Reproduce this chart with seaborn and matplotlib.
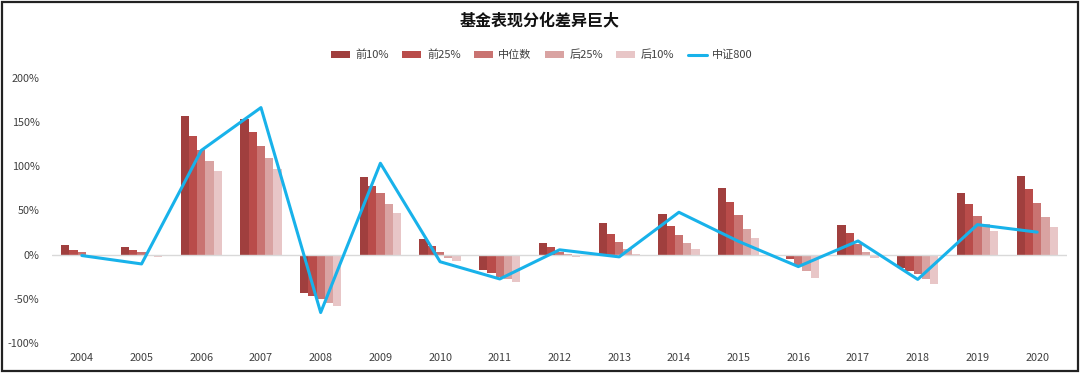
import numpy as np
import pandas as pd
import matplotlib
matplotlib.use("Agg")
import matplotlib.pyplot as plt
from matplotlib.patches import Patch, Rectangle
from matplotlib.lines import Line2D
import seaborn as sns

years = [str(y) for y in range(2004, 2021)]
series_names = ["前10%", "前25%", "中位数", "后25%", "后10%"]
top10 = [10.6, 8.7, 157, 153.6, -43.4, 88, 17.5, -17.7, 13, 35.5, 45.7, 76, -1, 33.5, -15, 69.4, 89.4]
top25 = [5.7, 5.8, 134.7, 139, -46.4, 78, 10, -21, 9, 23.5, 33, 60, -5, 25, -19, 57.4, 74.7]
median = [2.6, 2.5, 119, 123.4, -50, 70, 3.2, -25, 3.5, 14, 22.6, 44.5, -11.5, 12.5, -22, 44, 58.5]
bottom25 = [-0.5, -1.5, 106.4, 109, -55, 57, -3.5, -28, 0.5, 6.5, 13.6, 29.4, -19, 3.5, -28, 35, 42.6]
bottom10 = [-1, -2.5, 95, 97, -57.7, 47, -7.5, -31.5, -3, 1, 6, 19.2, -26.5, -3.5, -33, 27, 31]
csi800 = [-1, -10.5, 118, 166.5, -65.5, 103.5, -8, -27.5, 5.5, -2.5, 48, 15, -13.5, 15.5, -28, 34, 25.5]
yticks = [-100, -50, 0, 50, 100, 150, 200]

bar_colors = ["#A03F3E", "#B94C4A", "#C97371", "#D9A3A2", "#E8C6C7"]
line_color = "#18B2EA"

sns.set_theme(style="white")
plt.rcParams["font.family"] = ["Noto Sans CJK SC", "DejaVu Sans"]
plt.rcParams["axes.unicode_minus"] = False

df = pd.DataFrame({
    "year": np.repeat(years, 5),
    "series": series_names * len(years),
    "value": np.column_stack([top10, top25, median, bottom25, bottom10]).ravel(),
})
line_df = pd.DataFrame({"year": years, "csi": csi800})

fig = plt.figure(figsize=(10.8, 3.73), dpi=100)
ax = fig.add_axes([52 / 1080, 30 / 373, 1015 / 1080, 265 / 373])

sns.barplot(data=df, x="year", y="value", hue="series", hue_order=series_names,
            order=years, palette=bar_colors, width=0.69, gap=0, saturation=1,
            errorbar=None, legend=False, ax=ax, linewidth=0)
ax.axhline(0, color="#D9D9D9", lw=1, zorder=1)
sns.pointplot(data=line_df, x="year", y="csi", order=years, color=line_color,
              markers="", linewidth=2.2, errorbar=None, ax=ax)

ax.set_xlim(-0.5, len(years) - 0.5)
ax.set_ylim(-100, 200)
ax.set_yticks(yticks)
ax.set_yticklabels([f"{v}%" for v in yticks])
ax.set_xlabel("")
ax.set_ylabel("")
ax.tick_params(axis="both", length=0, labelsize=7.8, colors="#404040")
ax.tick_params(axis="y", pad=9)
ax.tick_params(axis="x", pad=7)
for s in ax.spines.values():
    s.set_visible(False)
ax.grid(False)

handles = [Patch(facecolor=c, edgecolor="none") for c in bar_colors]
handles.append(Line2D([0], [0], color=line_color, lw=2.2))
labels = series_names + ["中证800"]
fig.legend(handles, labels, loc="center", bbox_to_anchor=(542 / 1080, 1 - 55 / 373),
           ncol=6, frameon=False, fontsize=8, handlelength=1.7, handleheight=0.5,
           handletextpad=0.5, columnspacing=1.2, labelcolor="#404040")

fig.text(540 / 1080, 1 - 20 / 373, "基金表现分化差异巨大", ha="center", va="center",
         fontsize=11.5, fontweight="bold", color="#111111")

fig.patches.append(Rectangle((1.5 / 1080, 2 / 373), 1076 / 1080, 369 / 373,
                             transform=fig.transFigure, fill=False,
                             edgecolor="#222222", lw=1.6))

fig.savefig("out.png", dpi=100)
